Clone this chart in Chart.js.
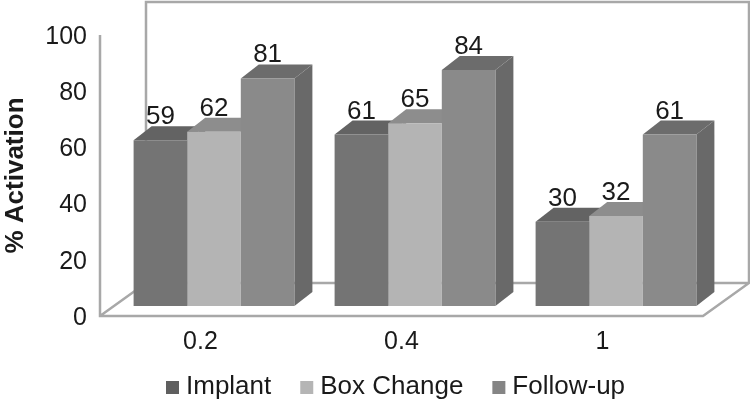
<!DOCTYPE html>
<html>
<head>
<meta charset="utf-8">
<style>
  html, body { margin: 0; padding: 0; background: #fff; }
  #wrap { width: 750px; height: 404px; position: relative; }
</style>
<script src="https://cdn.jsdelivr.net/npm/chart.js@4"></script>
</head>
<body>
<div id="wrap"><canvas id="activationChart"></canvas></div>
<script>
const categories = ['0.2', '0.4', '1'];
const seriesNames = ['Implant', 'Box Change', 'Follow-up'];
const implantValues = [59, 61, 30];
const boxChangeValues = [62, 65, 32];
const followUpValues = [81, 84, 61];
const yTicks = [0, 20, 40, 60, 80, 100];

const frontColors = ['#747474', '#b4b4b4', '#8a8a8a'];
const topColors = ['#636363', '#8d8d8d', '#6c6c6c'];
const sideColor = '#696969';
const legendColors = ['#5f5f5f', '#b5b5b5', '#858585'];
const frameColor = '#a8a8a8';
const textColor = '#1a1a1a';
const fontFamily = "'Liberation Sans', Arial, sans-serif";

// fake 3D: wall offset, bar shift into the floor, bar depth
const wallDx = 46, wallDy = 33;
const barShiftX = 13.5, barShiftY = 10;
const barDx = 18, barDy = 14;

function poly(ctx, pts, color) {
    ctx.beginPath();
    pts.forEach((p, i) => i ? ctx.lineTo(p[0], p[1]) : ctx.moveTo(p[0], p[1]));
    ctx.closePath();
    ctx.fillStyle = color;
    ctx.fill();
}

const box3d = {
    id: 'box3d',
    beforeDatasetsDraw(chart) {
        const { ctx, chartArea: a } = chart;
        // wall and floor outline
        ctx.save();
        ctx.strokeStyle = frameColor;
        ctx.lineWidth = 2.5;
        ctx.beginPath();
        ctx.moveTo(a.left, a.top);
        ctx.lineTo(a.left, a.bottom);
        ctx.lineTo(a.right, a.bottom);
        ctx.lineTo(a.right + wallDx, a.bottom - wallDy);
        ctx.lineTo(a.left + wallDx, a.bottom - wallDy);
        ctx.lineTo(a.left, a.bottom);
        ctx.moveTo(a.left + wallDx, a.bottom - wallDy);
        ctx.lineTo(a.left + wallDx, a.top - wallDy);
        ctx.lineTo(750, a.top - wallDy);
        ctx.moveTo(a.right + wallDx, a.top - wallDy);
        ctx.lineTo(a.right + wallDx, a.bottom - wallDy);
        ctx.stroke();
        ctx.restore();

        // the library draws bar fronts inside this translate
        ctx.save();
        ctx.translate(barShiftX, -barShiftY);
        categories.forEach((c, i) => {
            chart.data.datasets.forEach((ds, d) => {
                const bar = chart.getDatasetMeta(d).data[i];
                const l = bar.x - bar.width / 2, r = bar.x + bar.width / 2;
                poly(ctx, [[r, bar.y], [r + barDx, bar.y - barDy], [r + barDx, bar.base - barDy], [r, bar.base]], sideColor);
                poly(ctx, [[l, bar.y], [l + barDx, bar.y - barDy], [r + barDx, bar.y - barDy], [r, bar.y]], topColors[d]);
            });
        });
    },
    afterDatasetsDraw(chart) {
        const { ctx } = chart;
        ctx.restore();
        // value labels
        ctx.save();
        ctx.font = '26px ' + fontFamily;
        ctx.fillStyle = textColor;
        ctx.textAlign = 'center';
        ctx.textBaseline = 'alphabetic';
        chart.data.datasets.forEach((ds, d) => {
            chart.getDatasetMeta(d).data.forEach((bar, i) => {
                ctx.fillText(ds.data[i], bar.x + barShiftX, bar.y - barShiftY - 16);
            });
        });
        // legend
        let x = 166;
        seriesNames.forEach((name, i) => {
            ctx.fillStyle = legendColors[i];
            ctx.fillRect(x, 381, 13, 13);
            ctx.fillStyle = textColor;
            ctx.textAlign = 'left';
            ctx.textBaseline = 'middle';
            ctx.fillText(name, x + 20, 387);
            x += 20 + ctx.measureText(name).width + 29;
        });
        ctx.restore();
    }
};

new Chart(document.getElementById('activationChart').getContext('2d'), {
    type: 'bar',
    data: {
        labels: categories,
        datasets: [
            { label: seriesNames[0], data: implantValues, backgroundColor: frontColors[0] },
            { label: seriesNames[1], data: boxChangeValues, backgroundColor: frontColors[1] },
            { label: seriesNames[2], data: followUpValues, backgroundColor: frontColors[2] }
        ]
    },
    options: {
        responsive: true,
        maintainAspectRatio: false,
        animation: false,
        layout: { padding: { left: 0, top: 35, right: 47, bottom: 0 } },
        datasets: { bar: { categoryPercentage: 0.8, barPercentage: 1 } },
        plugins: {
            legend: { display: false },
            tooltip: { enabled: false }
        },
        scales: {
            x: {
                grid: { display: false, drawTicks: false },
                border: { display: false },
                ticks: { color: textColor, padding: 11, font: { family: fontFamily, size: 25 } },
                afterFit(s) { s.height = 88; s.paddingLeft = 0; s.paddingRight = 0; }
            },
            y: {
                min: 0,
                max: 100,
                grid: { display: false, drawTicks: false },
                border: { display: false },
                afterBuildTicks(s) { s.ticks = yTicks.map(v => ({ value: v })); },
                ticks: { color: textColor, padding: 13, labelOffset: 2, font: { family: fontFamily, size: 25 } },
                title: {
                    display: true,
                    text: '% Activation',
                    color: textColor,
                    padding: { top: 0, bottom: 0 },
                    font: { family: fontFamily, size: 26, weight: 'bold' }
                },
                afterFit(s) { s.width = 100; s.paddingTop = 0; s.paddingBottom = 0; }
            }
        }
    },
    plugins: [box3d]
});
</script>
</body>
</html>
